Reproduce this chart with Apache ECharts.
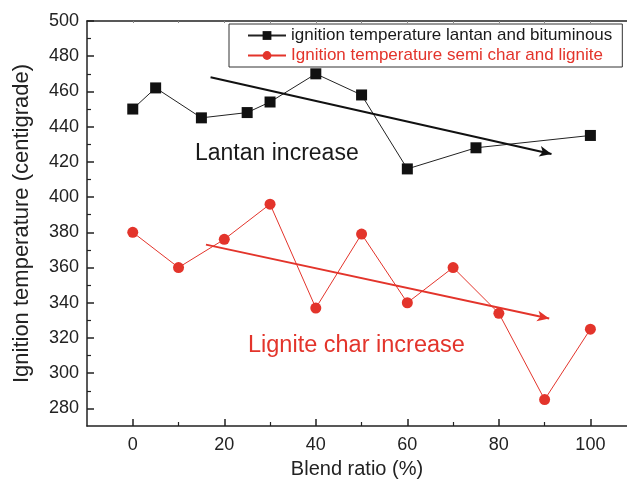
<!DOCTYPE html>
<html lang="en" style="height: 100%">
<head>
  <meta charset="utf-8">
</head>
<body style="height: 100%; margin: 0; background-color:#ffffff;">
  <div id="container" style="width: 627px; height: 484px"></div>

<script src="https://fastly.jsdelivr.net/npm/echarts@6/dist/echarts.min.js"></script>

<script>
  var dom = document.getElementById('container');
  var myChart = echarts.init(dom);

  var blackName = 'ignition temperature lantan and bituminous';
  var redName = 'Ignition temperature semi char and lignite';

  var blackX = [0, 5, 15, 25, 30, 40, 50, 60, 75, 100];
  var blackY = [450, 462, 445, 448, 454, 470, 458, 416, 428, 435];

  var redX = [0, 10, 20, 30, 40, 50, 60, 70, 80, 90, 100];
  var redY = [380, 360, 376, 396, 337, 379, 340, 360, 334, 285, 325];

  // trend arrows [start, end] in data units
  var blackArrow = [[17, 468], [91.5, 424.5]];
  var redArrow = [[16, 373], [91, 331]];

  var xLabels = [0, 20, 40, 60, 80, 100];
  var xMinor = [10, 30, 50, 70, 90];
  var yLabels = [280, 300, 320, 340, 360, 380, 400, 420, 440, 460, 480, 500];
  var yMinor = [290, 310, 330, 350, 370, 390, 410, 430, 450, 470, 490];

  var red = '#e3342b';
  var font = 'Liberation Sans, Arial, sans-serif';

  function pairs(xs, ys) {
    return xs.map(function (x, i) { return [x, ys[i]]; });
  }

  var option = {
    animation: false,
    textStyle: { fontFamily: font },
    grid: { left: 87, top: 21, bottom: 58, right: 0 },
    legend: {
      orient: 'vertical',
      left: 229,
      top: 24,
      width: 391,
      padding: [3, 10, 3, 18],
      itemGap: 3,
      itemWidth: 38,
      itemHeight: 11,
      borderColor: '#333',
      borderWidth: 1,
      textStyle: { fontSize: 17, fontFamily: font },
      data: [
        { name: blackName, textStyle: { color: '#1a1a1a' } },
        { name: redName, textStyle: { color: red } }
      ]
    },
    xAxis: [{
      type: 'value',
      min: -10,
      max: 108,
      interval: 10,
      name: 'Blend ratio (%)',
      nameLocation: 'middle',
      nameGap: 33,
      nameTextStyle: { fontSize: 20, color: '#222' },
      axisLine: { onZero: false, lineStyle: { color: '#222', width: 1.5 } },
      axisTick: { inside: true, length: 7, lineStyle: { color: '#222', width: 1.5 }, customValues: xLabels },
      axisLabel: { fontSize: 18, color: '#222', margin: 10, customValues: xLabels },
      splitLine: { show: false }
    }, {
      type: 'value',
      position: 'bottom',
      min: -10,
      max: 108,
      interval: 10,
      axisLine: { show: false, onZero: false },
      axisTick: { show: true, inside: true, length: 4, lineStyle: { color: '#222', width: 1.2 }, customValues: xMinor },
      axisLabel: { show: false },
      splitLine: { show: false }
    }, {
      type: 'value',
      position: 'top',
      min: -10,
      max: 108,
      interval: 10,
      axisLine: { show: true, onZero: false, lineStyle: { color: '#222', width: 1.5 } },
      axisTick: { inside: true, length: 2, lineStyle: { color: '#888' }, customValues: [0, 10, 20, 30, 40, 50, 60, 70, 80, 90, 100] },
      axisLabel: { show: false },
      splitLine: { show: false }
    }],
    yAxis: [{
      type: 'value',
      min: 270,
      max: 500,
      interval: 10,
      name: 'Ignition temperature (centigrade)',
      nameLocation: 'middle',
      nameGap: 54,
      nameTextStyle: { fontSize: 22, color: '#222' },
      axisLine: { show: true, onZero: false, lineStyle: { color: '#222', width: 1.5 } },
      axisTick: { inside: true, length: 7, lineStyle: { color: '#222', width: 1.5 }, customValues: yLabels },
      axisLabel: { fontSize: 18, color: '#222', margin: 8, customValues: yLabels },
      splitLine: { show: false }
    }, {
      type: 'value',
      position: 'left',
      min: 270,
      max: 500,
      interval: 10,
      axisLine: { show: false, onZero: false },
      axisTick: { show: true, inside: true, length: 4, lineStyle: { color: '#222', width: 1.2 }, customValues: yMinor },
      axisLabel: { show: false },
      splitLine: { show: false }
    }],
    series: [{
      name: blackName,
      type: 'line',
      data: pairs(blackX, blackY),
      symbol: 'rect',
      symbolSize: 11,
      itemStyle: { color: '#111' },
      lineStyle: { color: '#222', width: 1 },
      markLine: {
        silent: true,
        symbol: ['none', 'arrow'],
        symbolSize: [8, 12],
        label: { show: false },
        lineStyle: { color: '#111', width: 2, type: 'solid' },
        data: [[{ coord: blackArrow[0] }, { coord: blackArrow[1] }]]
      }
    }, {
      name: redName,
      type: 'line',
      data: pairs(redX, redY),
      symbol: 'circle',
      symbolSize: 11,
      itemStyle: { color: red },
      lineStyle: { color: red, width: 1 },
      markLine: {
        silent: true,
        symbol: ['none', 'arrow'],
        symbolSize: [8, 12],
        label: { show: false },
        lineStyle: { color: red, width: 2, type: 'solid' },
        data: [[{ coord: redArrow[0] }, { coord: redArrow[1] }]]
      }
    }],
    graphic: [{
      type: 'text',
      left: 195,
      top: 142,
      style: { text: 'Lantan increase', fontSize: 23, fontFamily: font, fill: '#1a1a1a' }
    }, {
      type: 'text',
      left: 248,
      top: 334,
      style: { text: 'Lignite char increase', fontSize: 23.5, fontFamily: font, fill: red }
    }]
  };

  myChart.setOption(option);

  window.addEventListener('resize', myChart.resize);
</script>

</body>
</html>
